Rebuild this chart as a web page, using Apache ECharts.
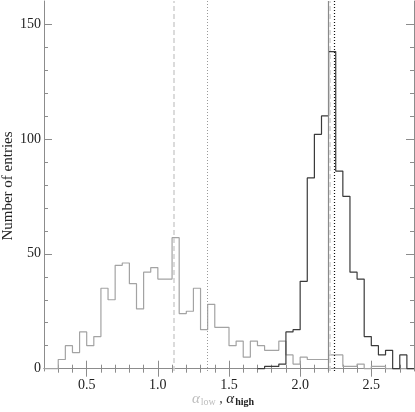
<!DOCTYPE html>
<html><head><meta charset="utf-8">
<script src="https://cdn.jsdelivr.net/npm/echarts@6/dist/echarts.min.js"></script>
<style>html,body{margin:0;padding:0;background:#fff}#c{width:415px;height:412px}</style>
</head><body><div id="c"></div>
<script>
// ---- data ----
const binWidth = 0.05;
const alphaLowStart = 0.20;
const alphaLowCounts = [0,0,4,10,7,16,10,14,35,30,45,46,37,26,42,44,39,39,57,24,25,35,17,28,18,18,10,12,5,12,10,8,8,12,6,2,5,4,4,4,6,6,1,1,2,0,1,1,0,0,0,0];
const alphaHighStart = 1.70;
const alphaHighCounts = [0,1,1,2,16,17,38,83,102,110,138,86,75,42,39,14,10,6,8,0,6,0];
const lowLines = [1.111, 1.355];
const highLines = [2.197, 2.211, 2.236];
const xMajorTicks = [0.5, 1.0, 1.5, 2.0, 2.5];
const xMinorTicks = [0.3,0.4,0.6,0.7,0.8,0.9,1.1,1.2,1.3,1.4,1.6,1.7,1.8,1.9,2.1,2.2,2.3,2.4,2.6,2.7];
const yMajorTicks = [0, 50, 100, 150];
const yMinorTicks = [10,20,30,40,60,70,80,90,110,120,130,140];

function stepData(start, counts) {
  const pts = counts.map((c, i) => [+(start + i * binWidth).toFixed(3), c]);
  pts.push([+(start + counts.length * binWidth).toFixed(3), counts[counts.length - 1]]);
  return pts;
}

const FONT = 'Liberation Serif';
const AX = '#8c8c8c';
function xAx(pos, ticks, len, labels, line) {
  return {
    type: 'value', position: pos, min: 0.2, max: 2.8,
    axisLine: { show: line, lineStyle: { color: AX, width: 1 } },
    axisTick: { show: true, inside: true, length: len, customValues: ticks, lineStyle: { color: AX } },
    axisLabel: labels ? { show: true, customValues: ticks, margin: 7, fontFamily: FONT, fontSize: 14, color: '#222',
      formatter: v => v.toFixed(1) } : { show: false },
    splitLine: { show: false }
  };
}
function yAx(pos, ticks, len, labels, line) {
  return {
    type: 'value', position: pos, min: -1, max: 160,
    axisLine: { show: line, lineStyle: { color: AX, width: 1 } },
    axisTick: { show: true, inside: true, length: len, customValues: ticks, lineStyle: { color: AX } },
    axisLabel: labels ? { show: true, customValues: ticks, margin: 3, fontFamily: FONT, fontSize: 14, color: '#222' } : { show: false },
    splitLine: { show: false }
  };
}

const xAxes = [
  xAx('bottom', xMajorTicks, 8, true, true),
  xAx('bottom', xMinorTicks, 4, false, false),
  xAx('top', xMajorTicks, 8, false, true),
  xAx('top', xMinorTicks, 4, false, false)
];
Object.assign(xAxes[0], {
  name: '{a|α}{s|low}{c| , }{b|α}{t|high}',
  nameLocation: 'middle', nameGap: 20, nameMoveOverlap: false,
  nameTextStyle: {
    padding: [0, 12, 0, 0],
    rich: {
      a: { fontFamily: FONT, fontStyle: 'italic', fontSize: 15, color: '#bdbdbd' },
      s: { fontFamily: FONT, fontSize: 10, color: '#bdbdbd', padding: [6, 0, 0, 1] },
      c: { fontFamily: FONT, fontSize: 14, color: '#444' },
      b: { fontFamily: FONT, fontStyle: 'italic', fontSize: 15, color: '#222' },
      t: { fontFamily: FONT, fontSize: 10, fontWeight: 'bold', color: '#222', padding: [6, 0, 0, 1] }
    }
  }
});
const yAxes = [
  yAx('left', yMajorTicks, 8, true, true),
  yAx('left', yMinorTicks, 4, false, false),
  yAx('right', yMajorTicks, 8, false, true),
  yAx('right', yMinorTicks, 4, false, false)
];
Object.assign(yAxes[0], {
  name: 'Number of entries', nameLocation: 'middle', nameRotate: 90, nameGap: 28, nameMoveOverlap: false,
  nameTextStyle: { fontFamily: FONT, fontSize: 15, color: '#222' }
});

const lowStyles = [
  { color: '#cfcfcf', type: [5, 3], width: 1.5 },
  { color: '#9a9a9a', type: [1, 2], width: 1 }
];
const highStyles = [
  { color: '#8a8a8a', type: 'solid', width: 1.2 },
  { color: '#d0d0d0', type: [5, 3], width: 1.5 },
  { color: '#111', type: [1, 2], width: 1.2 }
];

const chart = echarts.init(document.getElementById('c'), null, { renderer: 'canvas' });
chart.setOption({
  animation: false,
  backgroundColor: '#fff',
  grid: { left: 44, right: 1, top: 1, bottom: 41, containLabel: false, outerBoundsMode: 'none' },
  xAxis: xAxes,
  yAxis: yAxes,
  series: [
    {
      type: 'line', step: 'end', symbol: 'none', xAxisIndex: 0, yAxisIndex: 0,
      data: stepData(alphaLowStart, alphaLowCounts),
      lineStyle: { color: '#a3a3a3', width: 1.2 }, z: 2,
      markLine: {
        silent: true, symbol: 'none', label: { show: false },
        data: lowLines.map((v, i) => ({ xAxis: v, lineStyle: lowStyles[i] }))
          .concat(highLines.map((v, i) => ({ xAxis: v, lineStyle: highStyles[i] })))
      }
    },
    {
      type: 'line', step: 'end', symbol: 'none', xAxisIndex: 0, yAxisIndex: 0,
      data: stepData(alphaHighStart, alphaHighCounts),
      lineStyle: { color: '#3a3a3a', width: 1.2 }, z: 3
    }
  ]
});
</script>
</body></html>
